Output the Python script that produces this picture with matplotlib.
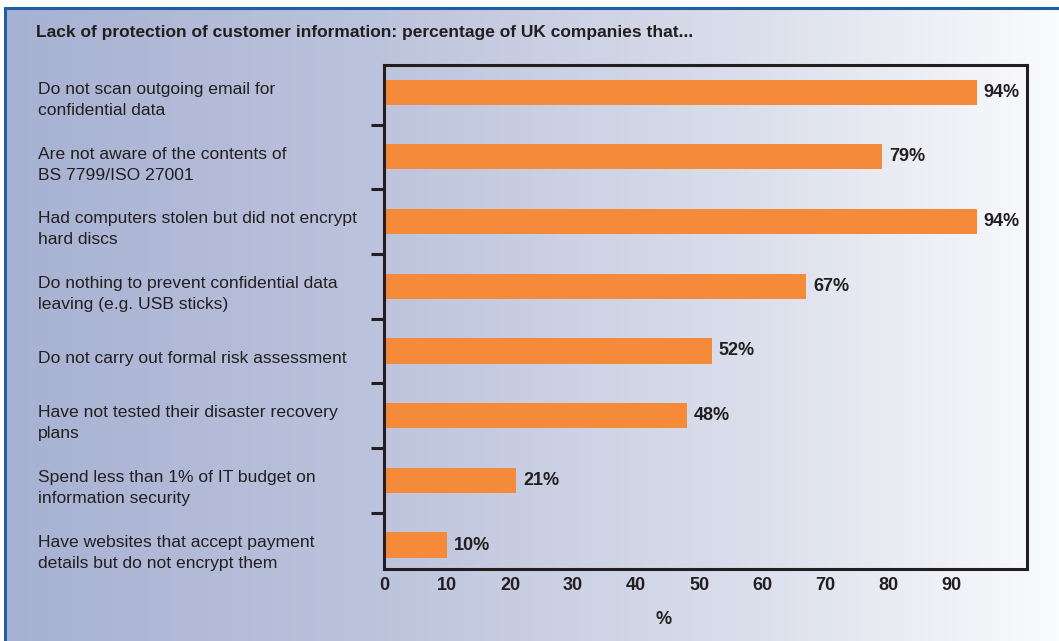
import numpy as np
import matplotlib
matplotlib.use('Agg')
from matplotlib import pyplot as plt
from matplotlib import transforms
from matplotlib.colors import LinearSegmentedColormap

plt.rcParams['font.family'] = ['Liberation Sans', 'DejaVu Sans']

title = 'Lack of protection of customer information: percentage of UK companies that...'
categories = [
    'Do not scan outgoing email for\nconfidential data',
    'Are not aware of the contents of\nBS 7799/ISO 27001',
    'Had computers stolen but did not encrypt\nhard discs',
    'Do nothing to prevent confidential data\nleaving (e.g. USB sticks)',
    'Do not carry out formal risk assessment',
    'Have not tested their disaster recovery\nplans',
    'Spend less than 1% of IT budget on\ninformation security',
    'Have websites that accept payment\ndetails but do not encrypt them',
]
values = [94, 79, 94, 67, 52, 48, 21, 10]
xticks = [0, 10, 20, 30, 40, 50, 60, 70, 80, 90]

W, H = 1059, 641
TEXT = '#231f20'
BAR = '#f58a3a'
BORDER = '#1f5fa6'

fig = plt.figure(figsize=(W / 100, H / 100), dpi=100)
fig.patch.set_facecolor('white')

# panel background: blue-grey fading to white on the right
bg = fig.add_axes([4 / W, 0, 1 - 4 / W, 1 - 7 / H], zorder=0)
cmap = LinearSegmentedColormap.from_list(
    'panel', [(0, '#a7b1d2'), (0.35, '#bcc3dc'), (0.7, '#dadeeb'), (1, '#fafbfc')])
bg.imshow(np.linspace(0, 1, 256)[None, :], aspect='auto', cmap=cmap,
          extent=[0, 1, 0, 1], interpolation='bicubic')
bg.set_xlim(0, 1)
bg.set_ylim(0, 1)
bg.axis('off')
bg.plot([0.001, 0.001], [0, 1], color=BORDER, lw=2.2, solid_capstyle='butt', clip_on=False)
bg.plot([0, 1], [0.999, 0.999], color=BORDER, lw=2.2, solid_capstyle='butt', clip_on=False)

fig.text(36 / W, 1 - 32 / H, title, fontsize=12.5, fontweight='bold', color=TEXT,
         ha='left', va='center')

ax = fig.add_axes([384 / W, 1 - 569 / H, (1027 - 384) / W, (569 - 65) / H], zorder=1)
ax.patch.set_alpha(0)
y = np.arange(len(values))
ax.barh(y, values, height=0.39, color=BAR, zorder=2)
for yi, v in zip(y, values):
    ax.text(v + 1.1, yi, f'{v}%', fontsize=13, fontweight='bold', color=TEXT,
            ha='left', va='center')

ax.set_xlim(0, 102)
ax.set_ylim(7.37, -0.42)
ax.set_xticks(xticks)
ax.set_xticklabels([str(t) for t in xticks], fontsize=13, fontweight='bold', color=TEXT)
ax.tick_params(axis='x', length=0, pad=6)
ax.set_yticks([])
ax.set_yticks(np.arange(0.5, len(values) - 1, 1), minor=True)
ax.tick_params(axis='y', which='minor', direction='out', length=9.5, width=2.2, color=TEXT)
for s in ax.spines.values():
    s.set_linewidth(2.2)
    s.set_color(TEXT)

# category labels aligned at a fixed figure x
trans = transforms.blended_transform_factory(fig.transFigure, ax.transData)
for yi, label in zip(y, categories):
    ax.text(38 / W, yi + 0.12, label, transform=trans, fontsize=12.6, color=TEXT,
            ha='left', va='center', linespacing=1.5)

fig.text(664 / W, 1 - 620 / H, '%', fontsize=13, fontweight='bold', color=TEXT,
         ha='center', va='center')

fig.savefig('out.png', dpi=100)
